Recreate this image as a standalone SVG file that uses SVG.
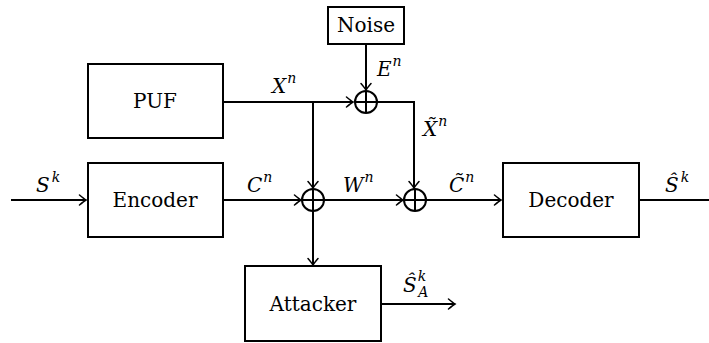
<svg xmlns="http://www.w3.org/2000/svg" width="709" height="343" viewBox="0 0 709 343">
<defs>
<marker id="arr" viewBox="-8 -6 10 12" markerWidth="10" markerHeight="12" refX="0" refY="0" orient="auto" markerUnits="userSpaceOnUse">
<path d="M-6.5,-5 Q-2,-1.2 0,0 Q-2,1.2 -6.5,5" fill="none" stroke="#000" stroke-width="1.5" stroke-linecap="round"/>
</marker>
</defs>
<style>
.box{fill:#fff;stroke:#000;stroke-width:2}
.ln{fill:none;stroke:#000;stroke-width:2}
text{fill:#000;font-family:'DejaVu Serif','Liberation Serif',serif}
.m{font-style:italic}
</style>
<rect width="709" height="343" fill="#fff"/>
<g id="connectors">
<path class="ln" d="M11,200 H86" marker-end="url(#arr)"/>
<path class="ln" d="M223,200 H301" marker-end="url(#arr)"/>
<path class="ln" d="M223,102 H353" marker-end="url(#arr)"/>
<path class="ln" d="M313,102 V188" marker-end="url(#arr)"/>
<path class="ln" d="M366,44 V90" marker-end="url(#arr)"/>
<path class="ln" d="M377,102 H414 V188" marker-end="url(#arr)"/>
<path class="ln" d="M324,200 H403" marker-end="url(#arr)"/>
<path class="ln" d="M313,211 V265" marker-end="url(#arr)"/>
<path class="ln" d="M426,200 H501" marker-end="url(#arr)"/>
<path class="ln" d="M639,200 H709"/>
<path class="ln" d="M381,304 H455" marker-end="url(#arr)"/>
</g>
<g font-size="20">
<g id="noise"><rect class="box" x="328" y="7" width="76" height="37"/><text x="366" y="32" text-anchor="middle">Noise</text></g>
<g id="puf"><rect class="box" x="88" y="64" width="135" height="74"/><text x="155" y="108" text-anchor="middle">PUF</text></g>
<g id="encoder"><rect class="box" x="88" y="163" width="135" height="74"/><text x="155" y="207" text-anchor="middle">Encoder</text></g>
<g id="decoder"><rect class="box" x="503" y="163" width="136" height="74"/><text x="571" y="207" text-anchor="middle">Decoder</text></g>
<g id="attacker"><rect class="box" x="245" y="266" width="136" height="75"/><text x="313" y="311" text-anchor="middle">Attacker</text></g>
<g id="xor1"><circle class="ln" cx="366" cy="102" r="11"/><path class="ln" d="M355,102 H377 M366,91 V113"/></g>
<g id="xor2"><circle class="ln" cx="313" cy="200" r="11"/><path class="ln" d="M302,200 H324 M313,189 V211"/></g>
<g id="xor3"><circle class="ln" cx="415" cy="200" r="11"/><path class="ln" d="M404,200 H426 M415,189 V211"/></g>
<g id="labels" class="m">
<text x="36" y="192">S<tspan dx="2" dy="-10" font-size="14">k</tspan></text>
<text x="247" y="192">C<tspan dx="1" dy="-10" font-size="14">n</tspan></text>
<text x="343" y="192">W<tspan dx="1" dy="-10" font-size="14">n</tspan></text>
<text x="449" y="192">C&#x303;<tspan dx="1" dy="-10" font-size="14">n</tspan></text>
<text x="665" y="192">&#x15C;<tspan dx="2" dy="-10" font-size="14">k</tspan></text>
<text x="423" y="136">X&#x303;<tspan dx="1" dy="-10" font-size="14">n</tspan></text>
<text x="272" y="93">X<tspan dx="1" dy="-10" font-size="14">n</tspan></text>
<text x="377" y="76">E<tspan dx="1" dy="-10" font-size="14">n</tspan></text>
<text x="403" y="292">&#x15C;<tspan dx="1" dy="-11" font-size="14">k</tspan><tspan dx="-8" dy="16" font-size="14">A</tspan></text>
</g>
</g>
</svg>
